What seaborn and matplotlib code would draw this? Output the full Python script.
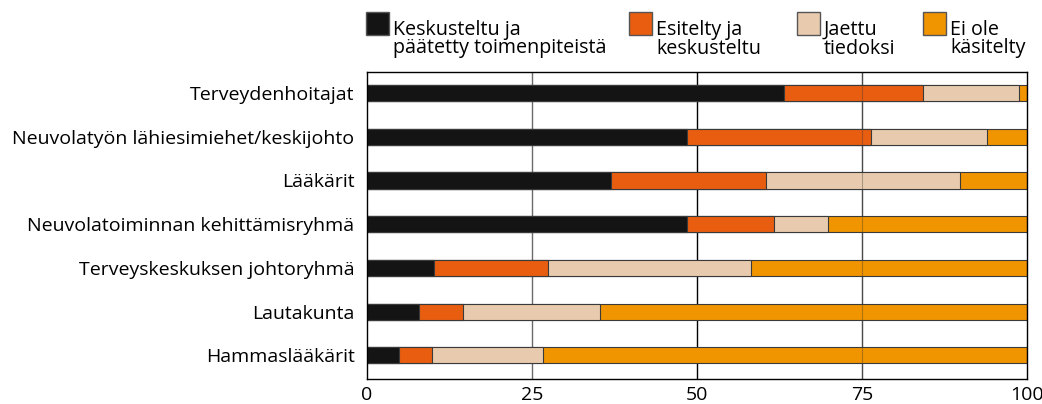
import matplotlib
matplotlib.use("Agg")
import matplotlib.pyplot as plt
import seaborn as sns
import pandas as pd
import numpy as np
from matplotlib.patches import Patch, Rectangle
from matplotlib.legend_handler import HandlerPatch

categories = ["Terveydenhoitajat", "Neuvolatyön lähiesimiehet/keskijohto", "Lääkärit",
              "Neuvolatoiminnan kehittämisryhmä", "Terveyskeskuksen johtoryhmä",
              "Lautakunta", "Hammaslääkärit"]
series_names = ["Keskusteltu ja\npäätetty toimenpiteistä", "Esitelty ja\nkeskusteltu",
                "Jaettu\ntiedoksi", "Ei ole\nkäsitelty"]
keskusteltu = [63.2, 48.5, 36.9, 48.5, 10.2, 7.9, 4.9]
esitelty = [21.0, 27.8, 23.6, 13.1, 17.2, 6.7, 4.9]
jaettu = [14.6, 17.6, 29.3, 8.3, 30.8, 20.7, 16.8]
ei_kasitelty = [1.2, 6.1, 10.2, 30.1, 41.8, 64.7, 73.4]
colors = ["#141414", "#E85D10", "#E8CBAE", "#F09400"]
xticks = [0, 25, 50, 75, 100]

sns.set_theme(style="white")
plt.rcParams['font.family'] = ['Open Sans', 'DejaVu Sans']
plt.rcParams['text.color'] = 'black'
plt.rcParams['xtick.color'] = 'black'
plt.rcParams['ytick.color'] = 'black'

df = pd.DataFrame({"cat": categories,
                   "s0": keskusteltu, "s1": esitelty, "s2": jaettu, "s3": ei_kasitelty})
cols = ["s0", "s1", "s2", "s3"]
cum = df[cols].cumsum(axis=1)

W, H = 1042, 404
fig = plt.figure(figsize=(W / 100, H / 100), dpi=100)
ax = fig.add_axes([367 / W, 1 - 379 / H, 660 / W, 307 / H])

for i in reversed(range(4)):
    d = pd.DataFrame({"cat": categories, "v": cum[cols[i]].values})
    sns.barplot(data=d, y="cat", x="v", orient="h", color=colors[i], width=0.37,
                edgecolor="#3a3a3a", linewidth=0.8, saturation=1, ax=ax, zorder=2)

ax.set_xlim(0, 100)
ax.set_ylim(6.54, -0.48)
ax.set_xticks(xticks)
ax.set_xticklabels([str(t) for t in xticks], fontsize=14)
ax.set_xlabel("")
ax.set_ylabel("")
ax.tick_params(axis="y", labelsize=14, length=0, pad=9, colors="black")
ax.tick_params(axis="x", length=0, pad=5, colors="black")
for xv, c in [(25, "#6a6a6a"), (50, "#000000"), (75, "#555555")]:
    ax.axvline(xv, color=c, linewidth=1.0, zorder=1)
ax.axvline(75, color="#333333", linewidth=0.8, alpha=0.35, zorder=3)
for s in ax.spines.values():
    s.set_color("black")
    s.set_linewidth(1.0)
    s.set_visible(True)

# legend: one entry per column at fixed positions
SIDE = 23 * 0.72   # square side in points
UP = 6 * 0.72      # raise square above text top


def square(legend, orig_handle, xdescent, ydescent, width, height, fontsize):
    return Rectangle((-xdescent, height + UP - SIDE), SIDE, SIDE)


leg_x = [366, 629, 797, 923]
fs = 14.2
for i in range(4):
    h = Patch(facecolor=colors[i], edgecolor="#555555", linewidth=1.0)
    leg = fig.legend([h], [series_names[i]], loc="upper left",
                     bbox_to_anchor=(leg_x[i] / W, 1 - 20 / H),
                     frameon=False, fontsize=fs, handlelength=SIDE / fs, handleheight=1.0,
                     handletextpad=0.2, borderpad=0.0, borderaxespad=0.0,
                     handler_map={Patch: HandlerPatch(patch_func=square)})
    for t in leg.get_texts():
        t.set_linespacing(0.9)
    for col in leg._legend_handle_box.get_children():
        for hp in col.get_children():
            hp.align = "top"

fig.savefig("out.png", dpi=100)
